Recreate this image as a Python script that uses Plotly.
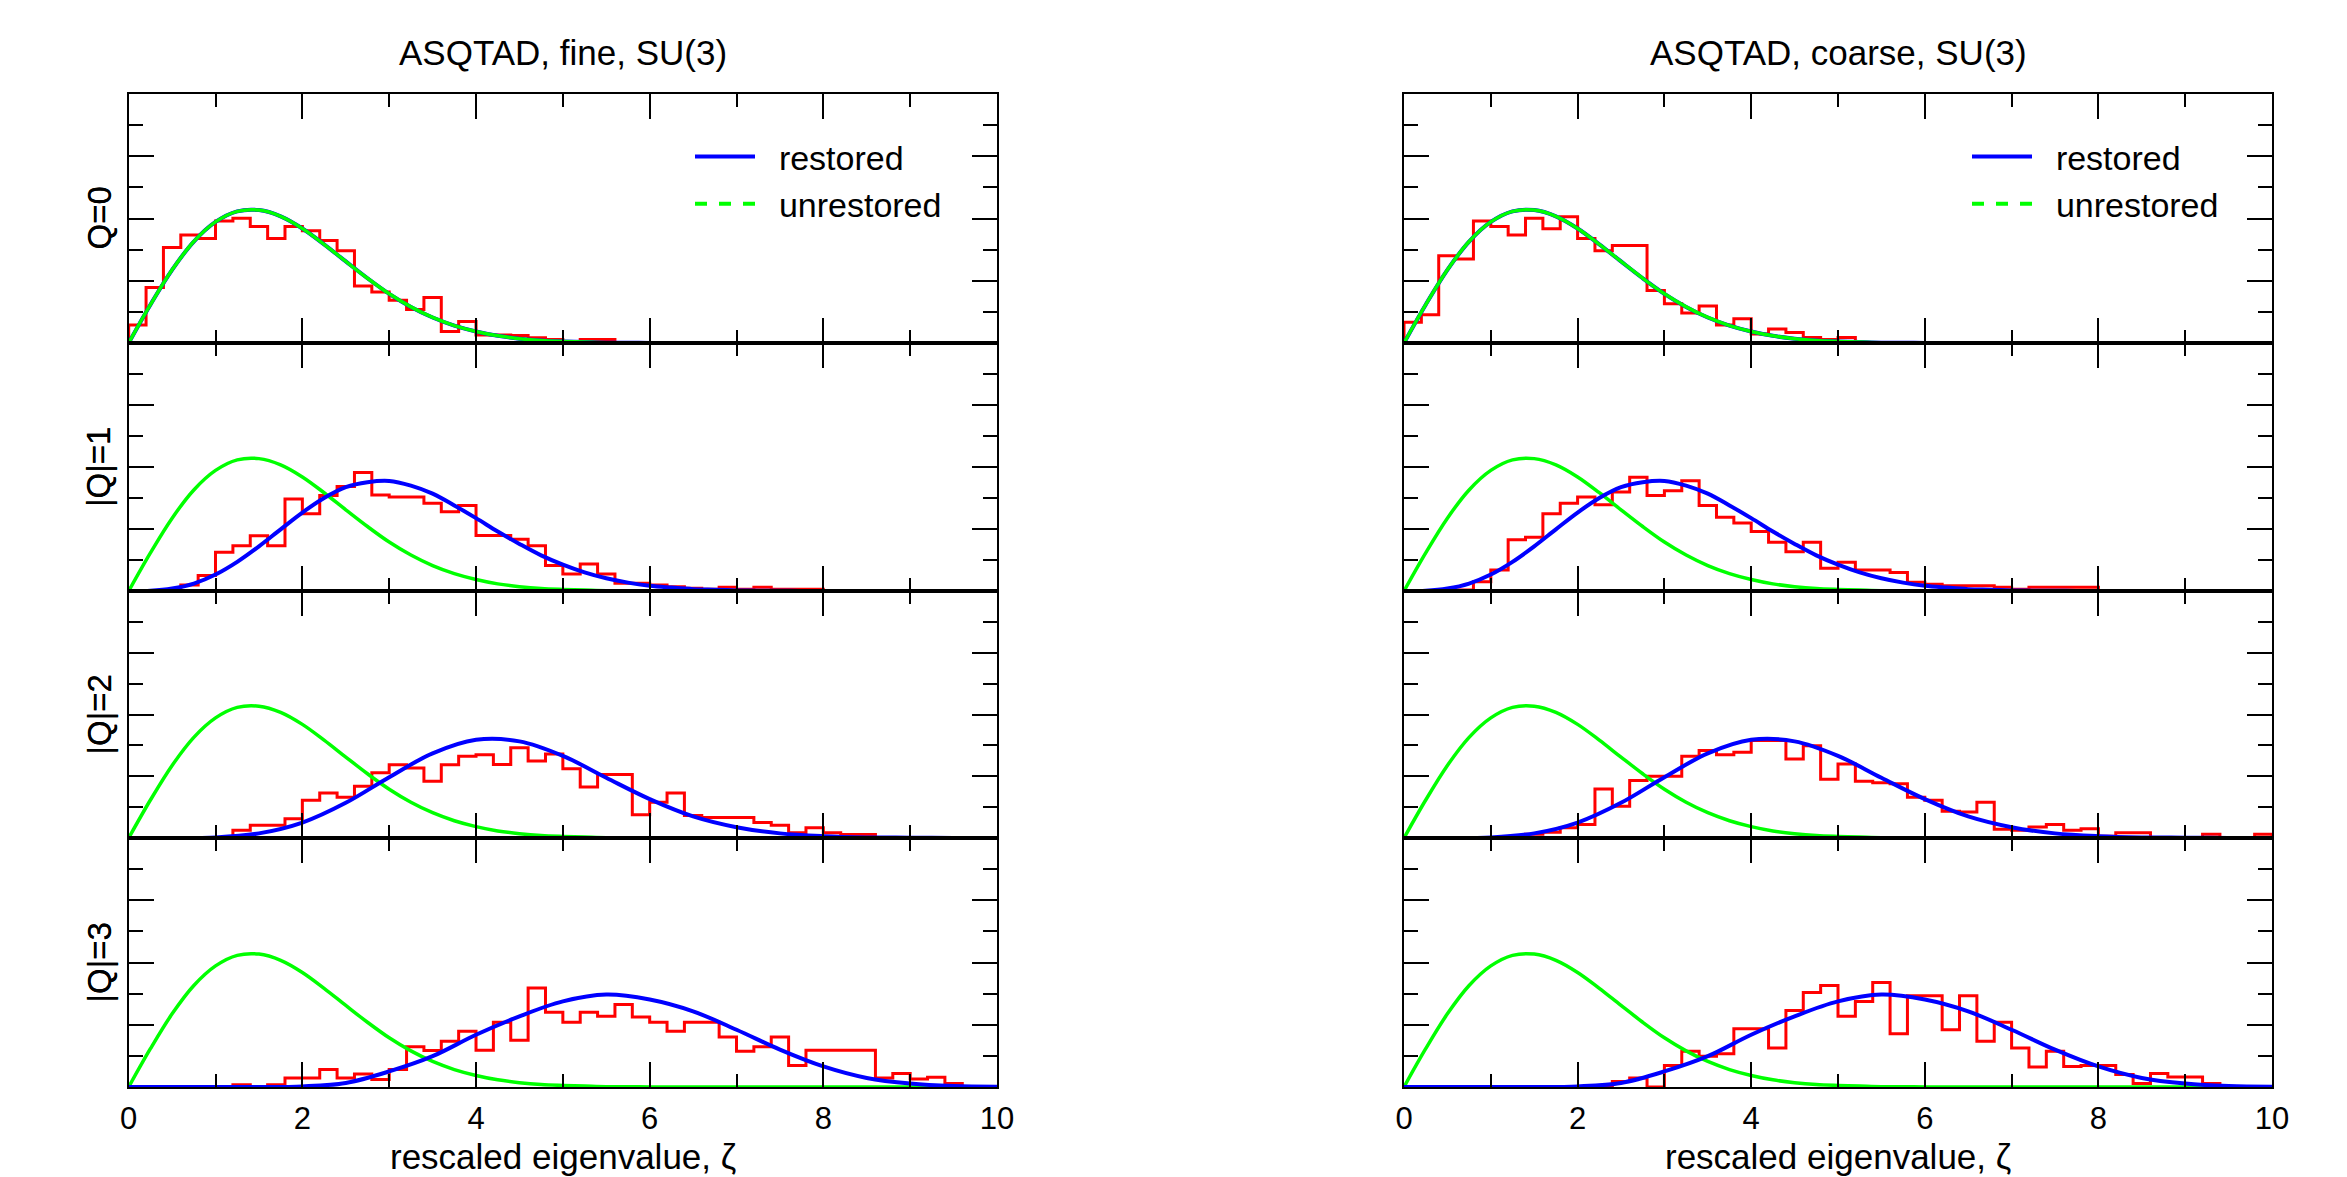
import numpy as np
import plotly.graph_objects as go

# ---------------- data ----------------
BIN_W = 0.2  # histogram bin width in zeta

ZETA_Q01 = [0.0, 0.25, 0.5, 0.75, 1.0, 1.25, 1.5, 1.75, 2.0, 2.25, 2.5, 2.75, 3.0, 3.25, 3.5,
            3.75, 4.0, 4.25, 4.5, 4.75, 5.0, 5.25, 5.5, 5.75, 6.0, 6.25, 6.5, 6.75, 7.0, 7.25,
            7.5, 7.75, 8.0, 8.25, 8.5, 8.75, 9.0, 9.25, 9.5, 9.75, 10.0]
ZETA_Q23 = [0.0, 0.5, 1.0, 1.5, 2.0, 2.5, 3.0, 3.5, 4.0, 4.5, 5.0, 5.5, 6.0, 6.5, 7.0, 7.5,
            8.0, 8.5, 9.0, 9.5, 10.0]

# RMT curves (unrestored = nu=0 curve in every panel; restored = nu=|Q| curve)
CURVE_NU0 = [0.000, 0.123, 0.235, 0.326, 0.389, 0.423, 0.427, 0.407, 0.368, 0.317, 0.262,
             0.208, 0.158, 0.116, 0.082, 0.056, 0.037, 0.023, 0.014, 0.008, 0.005, 0.003,
             0.001, 0.001, 0.000, 0.000, 0.000, 0.000, 0.000, 0.000, 0.000, 0.000, 0.000,
             0.000, 0.000, 0.000, 0.000, 0.000, 0.000, 0.000, 0.000]
CURVE_NU1 = [0.000, 0.001, 0.008, 0.024, 0.053, 0.094, 0.144, 0.199, 0.253, 0.300, 0.335,
             0.351, 0.355, 0.340, 0.314, 0.276, 0.235, 0.192, 0.152, 0.115, 0.085, 0.060,
             0.041, 0.027, 0.017, 0.011, 0.006, 0.004, 0.002, 0.001, 0.001, 0.000, 0.000,
             0.000, 0.000, 0.000, 0.000, 0.000, 0.000, 0.000, 0.000]
CURVE_NU2 = [0.000, 0.000, 0.002, 0.015, 0.050, 0.114, 0.197, 0.274, 0.318, 0.313, 0.266,
             0.195, 0.126, 0.070, 0.035, 0.015, 0.006, 0.002, 0.001, 0.000, 0.000]
CURVE_NU3 = [0.000, 0.000, 0.000, 0.000, 0.002, 0.013, 0.050, 0.099, 0.168, 0.227, 0.275,
             0.297, 0.281, 0.243, 0.184, 0.120, 0.066, 0.029, 0.011, 0.003, 0.001]

# Histograms (bins of width 0.2 starting at zeta = 0)
HIST_FINE_Q0 = [0.058, 0.178, 0.307, 0.347, 0.336, 0.392, 0.401, 0.374, 0.336, 0.374, 0.361,
                0.329, 0.296, 0.183, 0.164, 0.137, 0.108, 0.146, 0.037, 0.069, 0.026, 0.026,
                0.024, 0.017, 0.011, 0.004, 0.011, 0.011]
HIST_FINE_Q1 = [0.000, 0.000, 0.003, 0.019, 0.050, 0.125, 0.146, 0.178, 0.146, 0.297, 0.249,
                0.308, 0.337, 0.382, 0.310, 0.303, 0.303, 0.283, 0.256, 0.276, 0.179, 0.179,
                0.167, 0.146, 0.082, 0.055, 0.087, 0.055, 0.025, 0.025, 0.019, 0.014, 0.009,
                0.006, 0.012, 0.006, 0.012, 0.006, 0.006, 0.006]
HIST_FINE_Q2 = [0.000, 0.000, 0.000, 0.000, 0.000, 0.000, 0.025, 0.041, 0.041, 0.062, 0.122,
                0.146, 0.132, 0.168, 0.211, 0.237, 0.227, 0.184, 0.237, 0.265, 0.270, 0.238,
                0.292, 0.249, 0.272, 0.224, 0.165, 0.206, 0.206, 0.075, 0.116, 0.146, 0.073,
                0.066, 0.066, 0.066, 0.050, 0.041, 0.017, 0.033, 0.017, 0.011, 0.011]
HIST_FINE_Q3 = [0.000, 0.000, 0.000, 0.000, 0.000, 0.000, 0.007, 0.000, 0.007, 0.029, 0.029,
                0.056, 0.029, 0.042, 0.024, 0.056, 0.129, 0.117, 0.147, 0.179, 0.118, 0.208,
                0.150, 0.318, 0.240, 0.208, 0.240, 0.227, 0.265, 0.225, 0.208, 0.179, 0.208,
                0.208, 0.161, 0.115, 0.129, 0.161, 0.069, 0.118, 0.118, 0.118, 0.118, 0.029,
                0.043, 0.026, 0.031, 0.011]
HIST_COARSE_Q0 = [0.067, 0.091, 0.280, 0.270, 0.392, 0.374, 0.347, 0.401, 0.367, 0.406, 0.336,
                  0.296, 0.313, 0.313, 0.169, 0.126, 0.096, 0.119, 0.058, 0.078, 0.029, 0.045,
                  0.034, 0.018, 0.011, 0.018]
HIST_COARSE_Q1 = [0.000, 0.000, 0.003, 0.003, 0.030, 0.068, 0.165, 0.173, 0.249, 0.283, 0.303,
                  0.278, 0.319, 0.367, 0.308, 0.323, 0.356, 0.276, 0.238, 0.219, 0.192, 0.157,
                  0.127, 0.157, 0.073, 0.093, 0.068, 0.068, 0.060, 0.028, 0.022, 0.017, 0.017,
                  0.017, 0.012, 0.006, 0.012, 0.012, 0.012, 0.012]
HIST_COARSE_Q2 = [0.000, 0.000, 0.000, 0.000, 0.000, 0.000, 0.000, 0.012, 0.019, 0.033, 0.044,
                  0.159, 0.103, 0.186, 0.200, 0.200, 0.265, 0.283, 0.270, 0.278, 0.316, 0.316,
                  0.256, 0.299, 0.190, 0.240, 0.184, 0.179, 0.176, 0.132, 0.122, 0.087, 0.084,
                  0.116, 0.028, 0.025, 0.036, 0.044, 0.025, 0.030, 0.006, 0.017, 0.017, 0.000,
                  0.000, 0.000, 0.012, 0.000, 0.000, 0.012]
HIST_COARSE_Q3 = [0.000, 0.000, 0.000, 0.000, 0.000, 0.000, 0.000, 0.000, 0.000, 0.000, 0.000,
                  0.002, 0.018, 0.029, 0.000, 0.069, 0.115, 0.099, 0.107, 0.187, 0.187, 0.125,
                  0.246, 0.304, 0.326, 0.227, 0.275, 0.336, 0.171, 0.293, 0.293, 0.184, 0.293,
                  0.147, 0.208, 0.125, 0.064, 0.115, 0.066, 0.069, 0.069, 0.040, 0.011, 0.043,
                  0.032, 0.032, 0.011]

COLUMN_TITLES = ["ASQTAD, fine, SU(3)", "ASQTAD, coarse, SU(3)"]
ROW_LABELS = ["Q=0", "|Q|=1", "|Q|=2", "|Q|=3"]
X_TITLE = "rescaled eigenvalue, \u03b6"
X_TICKS = [0, 2, 4, 6, 8, 10]
LEGEND_NAMES = ["restored", "unrestored"]

HISTS = [[HIST_FINE_Q0, HIST_FINE_Q1, HIST_FINE_Q2, HIST_FINE_Q3],
         [HIST_COARSE_Q0, HIST_COARSE_Q1, HIST_COARSE_Q2, HIST_COARSE_Q3]]
RESTORED = [(ZETA_Q01, CURVE_NU0), (ZETA_Q01, CURVE_NU1), (ZETA_Q23, CURVE_NU2), (ZETA_Q23, CURVE_NU3)]

# ---------------- styling / layout ----------------
W, H = 2347, 1177
OX, OY = 8, 8   # page body margin in front of the plot div
FONT = "Liberation Sans, Arial, Helvetica, sans-serif"
RED, GREEN, BLUE = "#ff0000", "#00ff00", "#0000ff"
X_PX = [(128.7, 997.0), (1404.0, 2272.0)]
ROW_PX = [(94, 343), (343, 591), (591, 838), (838, 1087)]


def px_x(x):
    return (x - OX) / W


def px_y(y):
    return 1 - (y - OY) / H


fig = go.Figure()
layout = dict(
    width=W, height=H, margin=dict(l=0, r=0, t=0, b=0, autoexpand=False),
    paper_bgcolor="white", plot_bgcolor="white",
    font=dict(family=FONT, color="black", size=32),
    showlegend=True, annotations=[],
)


def step_xy(vals):
    n = len(vals)
    edges = (np.arange(n + 1) * BIN_W).tolist()
    xs = [edges[0]] + edges
    ys = [0.0] + list(vals) + [0.0]
    return xs, ys


for col in range(2):
    for row in range(4):
        k = col * 4 + row + 1
        xa = "x" if k == 1 else f"x{k}"
        ya = "y" if k == 1 else f"y{k}"
        xd = [px_x(X_PX[col][0]), px_x(X_PX[col][1])]
        top, bot = ROW_PX[row]
        yd = [px_y(bot), px_y(top)]
        layout["xaxis" if k == 1 else f"xaxis{k}"] = dict(
            domain=xd, range=[0, 10], anchor=ya, showline=True, linecolor="black", linewidth=2,
            mirror="allticks", ticks="inside", ticklen=25, tickwidth=1.5, tickcolor="black",
            tickmode="array", tickvals=X_TICKS, ticktext=[str(t) for t in X_TICKS],
            minor=dict(dtick=1, tick0=0, ticks="inside", ticklen=13, tickwidth=1.5, tickcolor="black"),
            showticklabels=(row == 3), tickfont=dict(size=31), ticklabelstandoff=3,
            showgrid=False, zeroline=False, fixedrange=True, automargin=False,
        )
        layout["yaxis" if k == 1 else f"yaxis{k}"] = dict(
            domain=yd, range=[0, 0.8], anchor=xa, showline=True, linecolor="black", linewidth=2,
            mirror="allticks", ticks="inside", ticklen=25, tickwidth=1.5, tickcolor="black",
            dtick=0.2, tick0=0,
            minor=dict(dtick=0.1, tick0=0, ticks="inside", ticklen=14, tickwidth=1.5, tickcolor="black"),
            showticklabels=False, showgrid=False, zeroline=False, fixedrange=True, automargin=False,
        )
        # histogram
        hx, hy = step_xy(HISTS[col][row])
        fig.add_trace(go.Scatter(x=hx, y=hy, mode="lines", line=dict(color=RED, width=3, shape="hv"),
                                 xaxis=xa, yaxis=ya, showlegend=False, hoverinfo="skip"))
        rx, ry = RESTORED[row]
        green = go.Scatter(x=ZETA_Q01, y=CURVE_NU0, mode="lines",
                           line=dict(color=GREEN, width=3.5, shape="spline", smoothing=1.0),
                           xaxis=xa, yaxis=ya, showlegend=False, hoverinfo="skip")
        blue = go.Scatter(x=rx, y=ry, mode="lines",
                          line=dict(color=BLUE, width=4, shape="spline", smoothing=1.0),
                          xaxis=xa, yaxis=ya, showlegend=False, hoverinfo="skip")
        if row == 0:
            fig.add_trace(blue)
            fig.add_trace(green)
        else:
            fig.add_trace(green)
            fig.add_trace(blue)
        # row label
        layout["annotations"].append(dict(
            text=ROW_LABELS[row], xref="paper", yref="paper", x=px_x(99),
            y=px_y((top + bot) / 2), textangle=-90, showarrow=False,
            font=dict(size=33), xanchor="center", yanchor="middle"))
    # legend-only entries
    lg = "legend" if col == 0 else "legend2"
    xa1 = "x" if col == 0 else "x5"
    ya1 = "y" if col == 0 else "y5"
    fig.add_trace(go.Scatter(x=[None], y=[None], mode="lines", name="\u00a0\u00a0" + LEGEND_NAMES[0],
                             line=dict(color=BLUE, width=4), legend=lg, xaxis=xa1, yaxis=ya1))
    fig.add_trace(go.Scatter(x=[None], y=[None], mode="lines", name="\u00a0\u00a0" + LEGEND_NAMES[1],
                             line=dict(color=GREEN, width=4, dash="dash"), legend=lg, xaxis=xa1, yaxis=ya1))
    cx = px_x((X_PX[col][0] + X_PX[col][1]) / 2)
    layout["annotations"].append(dict(
        text=COLUMN_TITLES[col], xref="paper", yref="paper", x=cx, y=px_y(52),
        showarrow=False, font=dict(size=35), xanchor="center", yanchor="middle"))
    layout["annotations"].append(dict(
        text=X_TITLE, xref="paper", yref="paper", x=cx, y=px_y(1156),
        showarrow=False, font=dict(size=35), xanchor="center", yanchor="middle"))

leg_common = dict(font=dict(size=34), bgcolor="rgba(0,0,0,0)", borderwidth=0,
                  xanchor="left", yanchor="top", y=px_y(128), tracegroupgap=0, itemwidth=60)
layout["legend"] = dict(x=px_x(690), **leg_common)
layout["legend2"] = dict(x=px_x(1967), **leg_common)

fig.update_layout(**layout)
fig.write_html("out.html")
